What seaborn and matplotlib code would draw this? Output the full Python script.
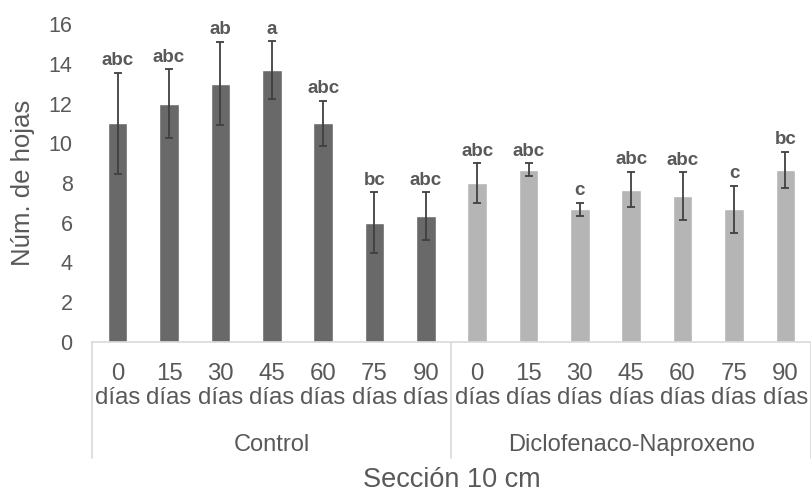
import matplotlib
matplotlib.use("Agg")
import matplotlib.pyplot as plt
import matplotlib.transforms as mtransforms
import pandas as pd
import seaborn as sns

# Data: number of leaves per treatment and sampling day (10 cm section)
days = [0, 15, 30, 45, 60, 75, 90]
groups = ["Control", "Diclofenaco-Naproxeno"]
control_mean = [11.0, 12.0, 13.0, 13.67, 11.0, 6.0, 6.33]
control_err = [2.55, 1.73, 2.1, 1.45, 1.15, 1.53, 1.2]
control_letters = ["abc", "abc", "ab", "a", "abc", "bc", "abc"]
dn_mean = [8.0, 8.67, 6.67, 7.67, 7.33, 6.67, 8.67]
dn_err = [1.0, 0.33, 0.33, 0.9, 1.2, 1.2, 0.9]
dn_letters = ["abc", "abc", "c", "abc", "abc", "c", "bc"]

means = control_mean + dn_mean
errs = control_err + dn_err
letters = control_letters + dn_letters
group_col = [groups[0]] * len(days) + [groups[1]] * len(days)
cats = [f"{g} {d}" for g in groups for d in days]

df = pd.DataFrame({"cat": cats, "value": means, "group": group_col})

sns.set_style("white")
plt.rcParams["font.family"] = ["Liberation Sans", "DejaVu Sans"]

TXT = "#595959"
fig = plt.figure(figsize=(8.12, 4.92), dpi=100)
ax = fig.add_axes([92 / 812, 1 - 342 / 492, (811 - 92) / 812, (342 - 24) / 492])

sns.barplot(data=df, x="cat", y="value", hue="group", order=cats,
            palette=["#696969", "#b5b5b5"], dodge=False, width=0.38,
            legend=False, saturation=1, ax=ax)

pos = list(range(len(cats)))
ax.errorbar(pos, means, yerr=errs, fmt="none", ecolor="#404040",
            elinewidth=1.3, capsize=3, capthick=1.3)

for x, m, e, lab in zip(pos, means, errs, letters):
    ax.annotate(lab, xy=(x, m + e), xytext=(0, 2.5), textcoords="offset points",
                ha="center", va="bottom", fontsize=13.5, fontweight="bold", color=TXT)

ax.set_ylim(0, 16)
ax.set_xlim(-0.5, len(cats) - 0.5)
ax.set_yticks(range(0, 17, 2))
ax.set_xticks(pos)
ax.set_xticklabels([f"{d}\ndías" for d in days] * 2, linespacing=1.15)
ax.tick_params(axis="y", length=0, pad=14, labelsize=15.5, labelcolor=TXT)
ax.tick_params(axis="x", length=0, pad=15, labelsize=17.3, labelcolor=TXT)

for s in ["top", "right", "left"]:
    ax.spines[s].set_visible(False)
ax.spines["bottom"].set_color("#d9d9d9")
ax.spines["bottom"].set_linewidth(1.2)

# Group separators and group names below the tick labels
trans = mtransforms.blended_transform_factory(ax.transData, ax.transAxes)
depth = (458 - 342) / 318
for xb in [-0.5, len(days) - 0.5, len(cats) - 0.5]:
    ax.plot([xb, xb], [0, -depth], transform=trans, color="#d9d9d9",
            lw=1.2, clip_on=False)
for i, g in enumerate(groups):
    xc = i * len(days) + (len(days) - 1) / 2
    ax.text(xc, -(445 - 342) / 318, g, transform=trans, ha="center",
            va="center", fontsize=17, color=TXT)

ax.set_ylabel("Núm. de hojas", fontsize=18.5, color=TXT)
ax.yaxis.set_label_coords(-(92 - 23) / 719, 0.5)
ax.yaxis.label.set_va("center")
ax.set_xlabel("Sección 10 cm", fontsize=19.5, color=TXT)
ax.xaxis.set_label_coords(0.5, -(480 - 342) / 318)
ax.xaxis.label.set_va("center")

fig.savefig("out.png", dpi=100)
